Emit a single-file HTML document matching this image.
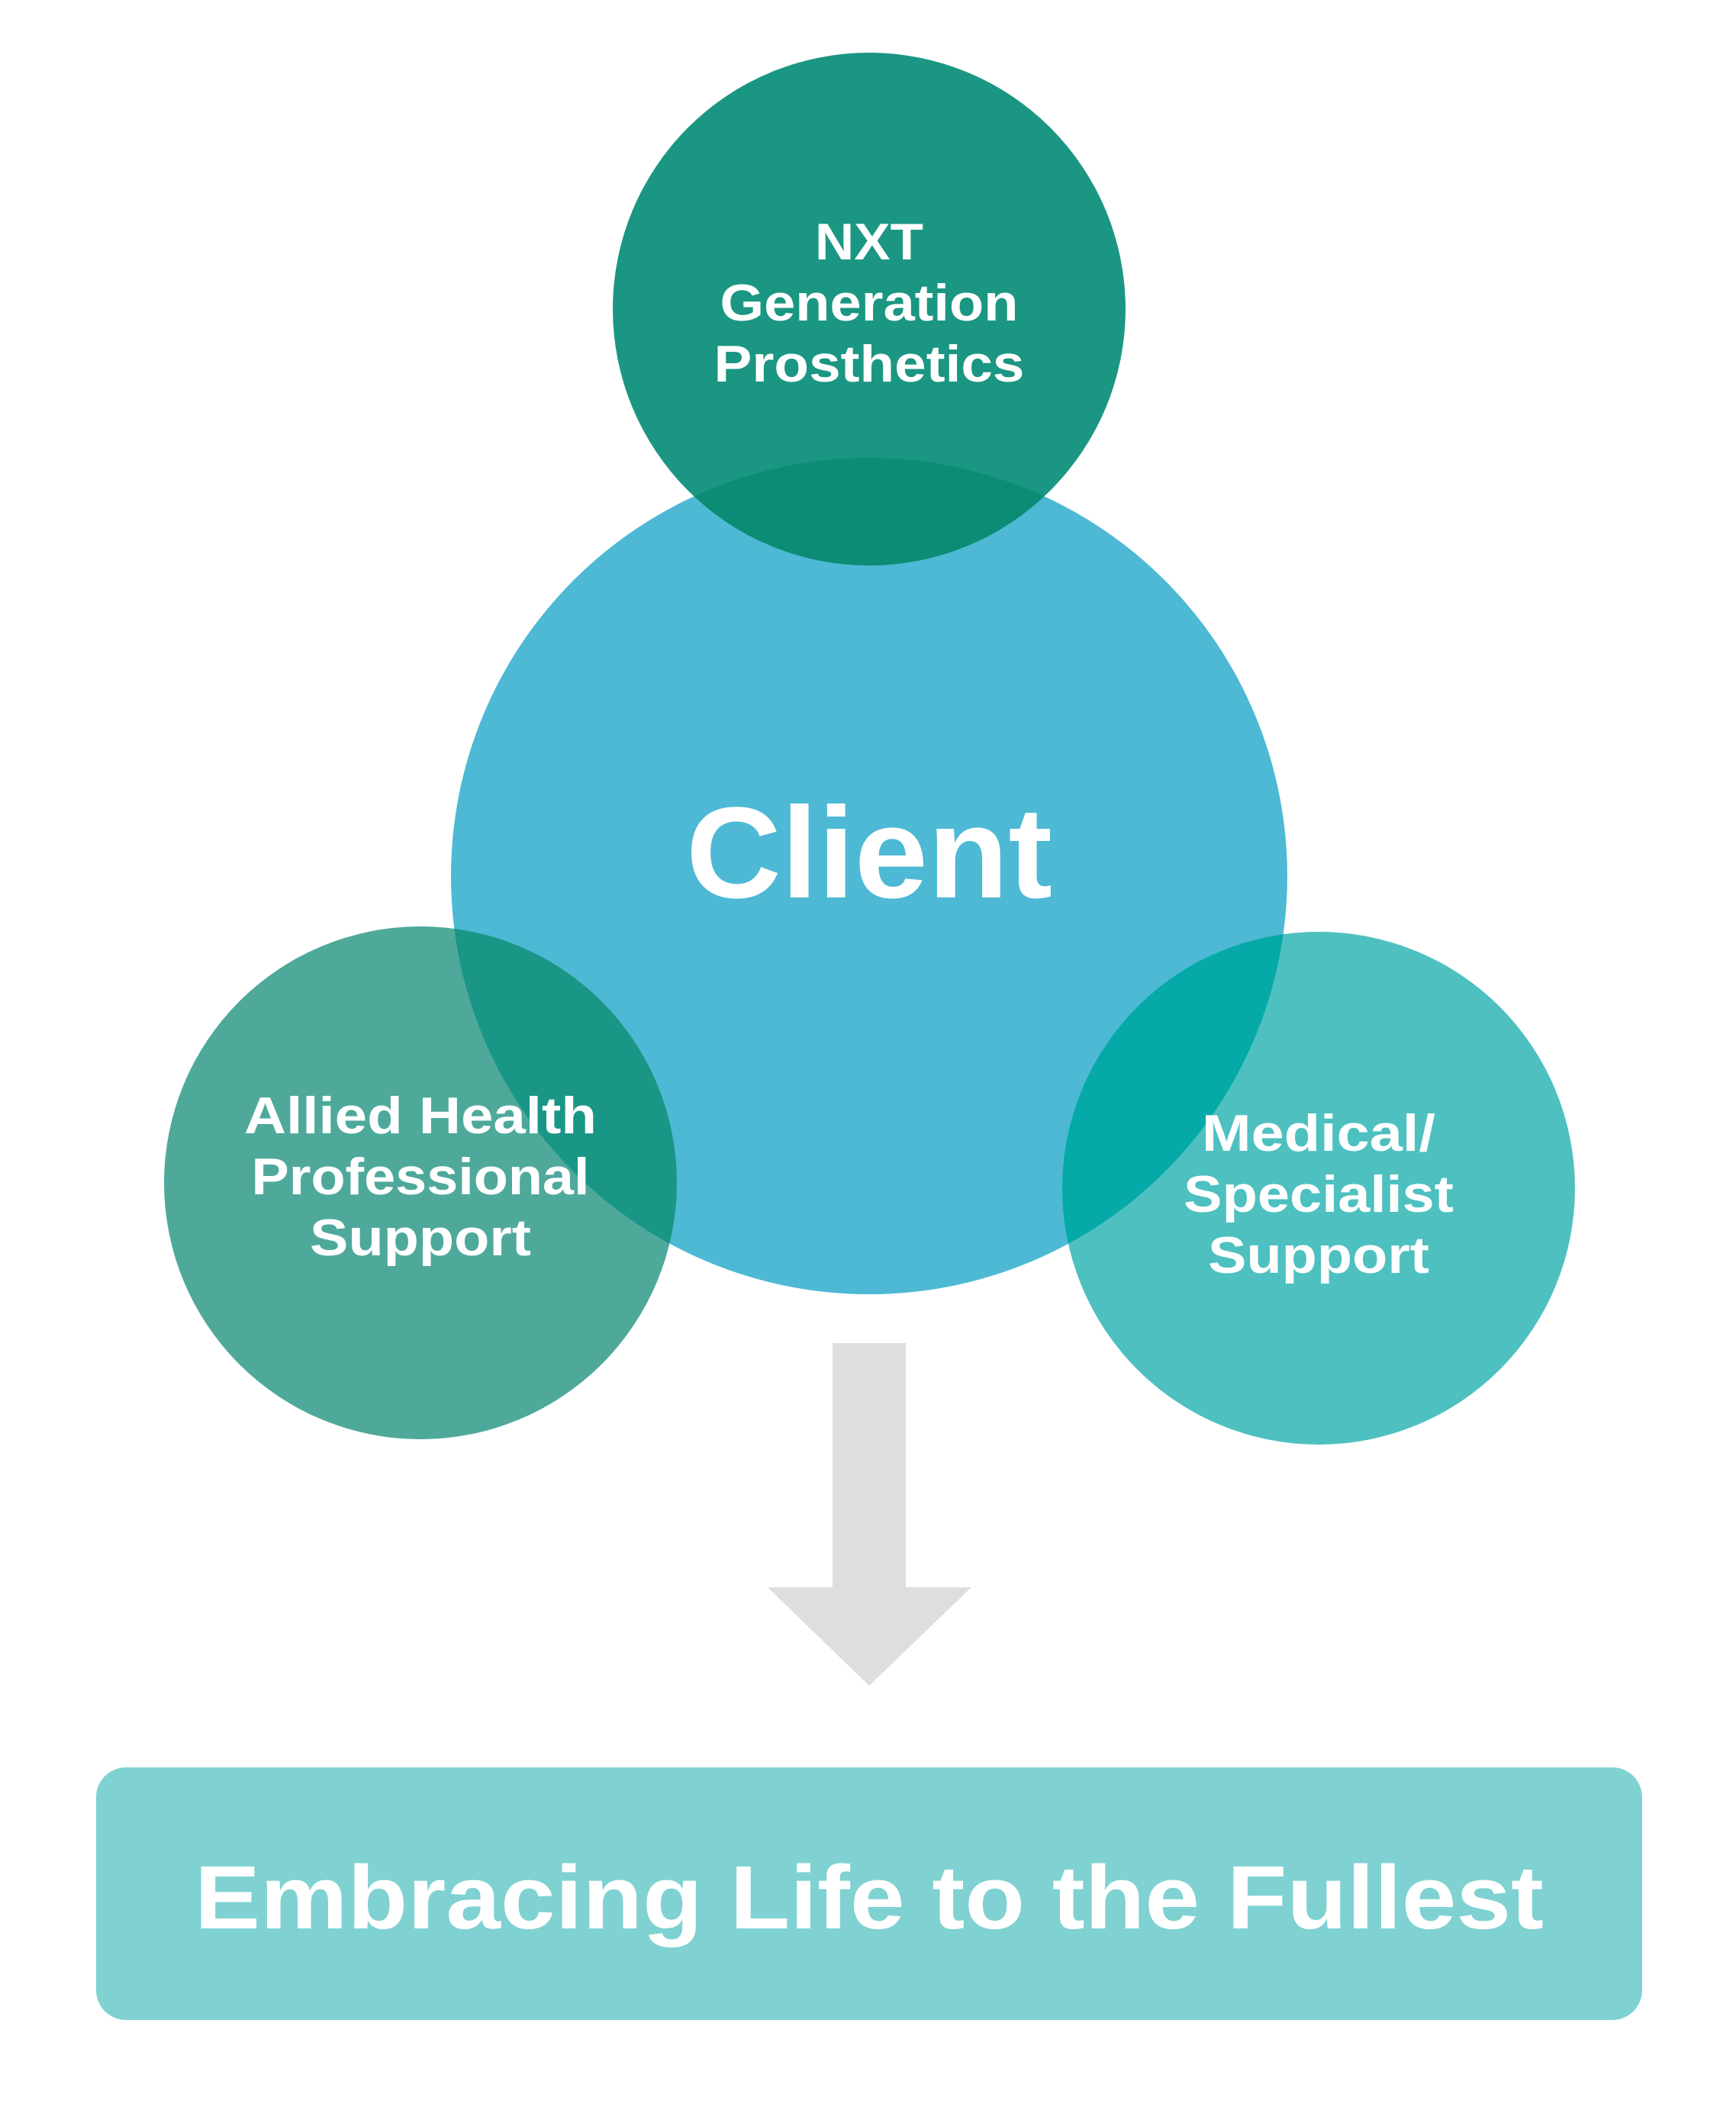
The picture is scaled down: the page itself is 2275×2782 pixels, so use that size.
<!DOCTYPE html>
<html><head><meta charset="utf-8"><style>
html,body{margin:0;padding:0;background:#fff;}
svg{display:block;}
text{font-family:"Liberation Sans",Arial,sans-serif;font-weight:bold;fill:#fff;text-anchor:middle;}
</style></head><body>
<svg width="2275" height="2782" viewBox="0 0 2275 2782" xmlns="http://www.w3.org/2000/svg">
<defs>
<clipPath id="cTop"><circle cx="1139" cy="405" r="336"/></clipPath>
<clipPath id="cLeft"><circle cx="551" cy="1550" r="336"/></clipPath>
<clipPath id="cRight"><circle cx="1728" cy="1557" r="336"/></clipPath>
</defs>
<rect width="2275" height="2782" fill="#fff"/>
<circle cx="1139" cy="1148" r="548" fill="#4db9d4"/>
<circle cx="1139" cy="405" r="336" fill="#1b9682"/>
<circle cx="551" cy="1550" r="336" fill="#4ea99b"/>
<circle cx="1728" cy="1557" r="336" fill="#4ec0c0"/>
<circle cx="1139" cy="1148" r="548" fill="#0c8c74" clip-path="url(#cTop)"/>
<circle cx="1139" cy="1148" r="548" fill="#1a9687" clip-path="url(#cLeft)"/>
<circle cx="1139" cy="1148" r="548" fill="#05aaa8" clip-path="url(#cRight)"/>

<text x="1139" y="340" font-size="68" textLength="142" lengthAdjust="spacingAndGlyphs">NXT</text>
<text x="1139" y="420" font-size="68" textLength="391" lengthAdjust="spacingAndGlyphs">Generation</text>
<text x="1139" y="500" font-size="68" textLength="407" lengthAdjust="spacingAndGlyphs">Prosthetics</text>

<text x="1139" y="1176" font-size="170" textLength="480" lengthAdjust="spacingAndGlyphs">Client</text>

<text x="551" y="1485" font-size="68" textLength="462" lengthAdjust="spacingAndGlyphs">Allied Health</text>
<text x="551" y="1565" font-size="68" textLength="443" lengthAdjust="spacingAndGlyphs">Professional</text>
<text x="551" y="1645" font-size="68" textLength="290" lengthAdjust="spacingAndGlyphs">Support</text>

<text x="1728" y="1508" font-size="68" textLength="306" lengthAdjust="spacingAndGlyphs">Medical/</text>
<text x="1728" y="1588" font-size="68" textLength="354" lengthAdjust="spacingAndGlyphs">Specialist</text>
<text x="1728" y="1668" font-size="68" textLength="290" lengthAdjust="spacingAndGlyphs">Support</text>

<polygon points="1091,1760 1187,1760 1187,2080 1273,2080 1139,2209 1006,2080 1091,2080" fill="#dcdedf"/>

<rect x="126" y="2316" width="2026" height="331" rx="39" ry="39" fill="#7fd2d1"/>
<text x="1139" y="2527" font-size="118" textLength="1768" lengthAdjust="spacingAndGlyphs">Embracing Life to the Fullest</text>
</svg>
</body></html>
